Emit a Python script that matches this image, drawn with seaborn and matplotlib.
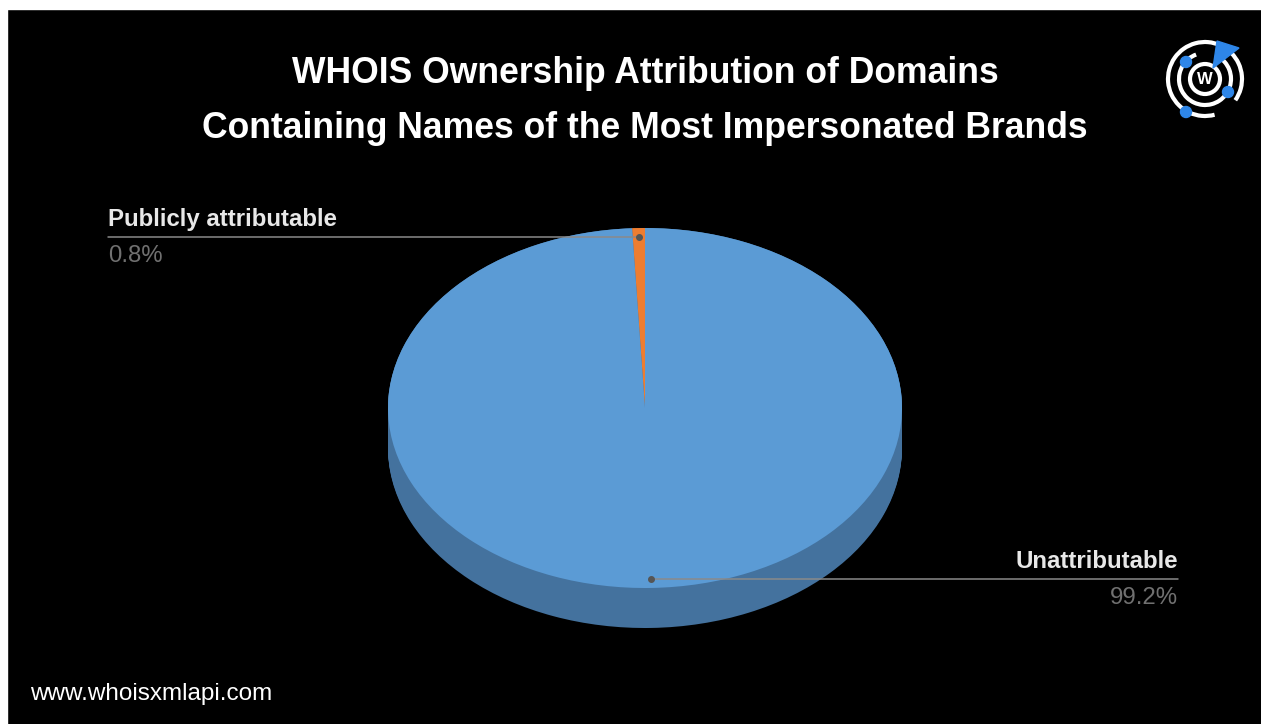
import numpy as np
import seaborn as sns
import matplotlib.pyplot as plt
from matplotlib.patches import Rectangle, Arc, Circle, Polygon

# chart data
labels = ["Publicly attributable", "Unattributable"]
shares = [0.8, 99.2]
top_colors = ["#ED7D31", "#5B9BD5"]
side_colors = ["#B0591F", "#44729E"]

title_lines = ["WHOIS Ownership Attribution of Domains",
               "Containing Names of the Most Impersonated Brands"]
footer = "www.whoisxmlapi.com"

sns.set_theme(style="dark")
plt.rcParams['font.family'] = ['Liberation Sans', 'DejaVu Sans']

W, H = 1261, 724
fig = plt.figure(figsize=(W / 100, H / 100), dpi=100, facecolor="black")

# full-figure overlay in pixel coordinates (y down)
bg = fig.add_axes([0, 0, 1, 1])
bg.set_xlim(0, W)
bg.set_ylim(H, 0)
bg.axis("off")
# white margin at top and left, as in the screenshot
bg.add_patch(Rectangle((-5, -5), W + 10, 14, color="white", zorder=0, clip_on=False))
bg.add_patch(Rectangle((-5, -5), 12, H + 10, color="white", zorder=0, clip_on=False))

# pie geometry (pixels)
cx, cy, rx, ry, depth = 645, 408, 257, 180, 40
pad = 1.1
d = depth / ry
ax_left = cx - pad * rx
ax_top = cy - pad * ry
ax_w = 2 * pad * rx
ax_h = (2 * pad + d) * ry
ax = fig.add_axes([ax_left / W, 1 - (ax_top + ax_h) / H, ax_w / W, ax_h / H])
ax.set_facecolor("none")

# extruded side, drawn as stacked darker pies
for dy in np.linspace(d, 0, 40):
    ax.pie(shares, colors=side_colors, startangle=90, counterclock=True,
           center=(0, -dy), radius=1, wedgeprops=dict(linewidth=0))
ax.pie(shares, colors=top_colors, startangle=90, counterclock=True,
       center=(0, 0), radius=1, wedgeprops=dict(linewidth=0))
ax.set_aspect("auto")
ax.set_xlim(-pad, pad)
ax.set_ylim(-pad - d, pad)
ax.axis("off")

# leader lines and labels
angles = 90 + 360 * (np.cumsum(shares) - np.array(shares) / 2) / 100
line_ends = [(108 - cx) / rx, (1178 - cx) / rx]
for lab, val, ang, xe in zip(labels, shares, angles, line_ends):
    xa = 0.95 * np.cos(np.radians(ang))
    ya = 0.95 * np.sin(np.radians(ang))
    ax.plot([xa, xe], [ya, ya], color="#8a8a8a", lw=1.1, clip_on=False)
    ax.plot([xa], [ya], "o", color="#555555", ms=4, clip_on=False)
    ha = "left" if xe < 0 else "right"
    ax.annotate(lab, xy=(xe, ya), xytext=(0, 6), textcoords="offset pixels",
                ha=ha, va="bottom", fontsize=17.3, fontweight="bold",
                color="#e8e8e8", annotation_clip=False)
    ax.annotate(f"{val:.1f}%", xy=(xe, ya), xytext=(0, -8), textcoords="offset pixels",
                ha=ha, va="top", fontsize=17.3, color="#707070",
                annotation_clip=False)

# title and footer
for line, yb in zip(title_lines, [83, 138]):
    bg.text(645, yb, line, ha="center", va="baseline", fontsize=25.6,
            fontweight="bold", color="white")
bg.text(30, 700, footer, ha="left", va="baseline", fontsize=17.5, color="white")

# logo
lx, ly = 1205, 79
bg.add_patch(Arc((lx, ly), 74, 74, theta1=75, theta2=395, color="white", lw=3))
bg.add_patch(Arc((lx, ly), 52, 52, theta1=-60, theta2=250, color="white", lw=3))
bg.add_patch(Circle((lx, ly), 15, fill=False, ec="white", lw=3))
bg.text(lx, ly + 1, "W", ha="center", va="center", fontsize=12,
        fontweight="bold", color="white")
for px, py in [(1186, 62), (1228, 92), (1186, 112)]:
    bg.add_patch(Circle((px, py), 5.5, color="#2E86E8"))
bg.add_patch(Polygon([(1213, 68), (1217, 41), (1239, 48)], closed=True,
                     color="#2E86E8"))

fig.savefig("out.png", dpi=100, facecolor=fig.get_facecolor())
